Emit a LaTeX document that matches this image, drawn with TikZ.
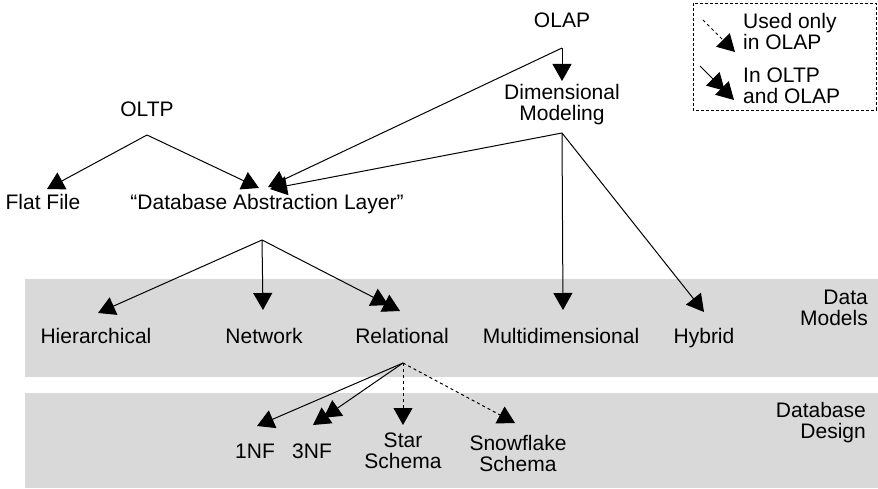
\documentclass[tikz,border=0pt]{standalone}
\usepackage{fontspec}
\setmainfont{Liberation Sans}
\usetikzlibrary{arrows.meta}
\begin{document}
\begin{tikzpicture}[x=1pt,y=-1pt,
  lbl/.style={inner sep=0pt, font=\fontsize{21}{21}\selectfont, anchor=base},
  head/.tip={Triangle[length=17pt,width=19pt]},
  link/.style={line width=1pt, -{head}},
  olaponly/.style={line width=1pt, dash pattern=on 3pt off 3pt, -{head}},
  both/.style={line width=1pt, -{head[sep=-4pt] head}},
  band/.style={fill=gray!30, draw=none}]
\useasboundingbox (0,0) rectangle (878,489);

% shaded layers
\fill[band] (25,279) rectangle (878,377);
\fill[band] (25,393) rectangle (878,488);

% legend (multi-line labels are placed by the baseline of their last line)
\draw[line width=0.8pt, dash pattern=on 3pt off 2pt] (693,3) rectangle (876,110);
\coordinate (lg1a) at (703,20);
\coordinate (lg1b) at (735,52);
\coordinate (lg2a) at (700,66);
\coordinate (lg2b) at (734,100);
\draw[olaponly] (lg1a) -- (lg1b);
\draw[both] (lg2a) -- (lg2b);
\node[lbl, anchor=base west, align=left] (lgt1) at (743,50) {Used only\\in OLAP};
\node[lbl, anchor=base west, align=left] (lgt2) at (743,104) {In OLTP\\and OLAP};

% labels
\node[lbl] (olap) at (562,28) {OLAP};
\node[lbl, align=center] (dm) at (562,121) {Dimensional\\Modeling};
\node[lbl] (oltp) at (147,117) {OLTP};
\node[lbl] (flat) at (43,210) {Flat File};
\node[lbl] (dal) at (267,210) {“Database Abstraction Layer”};
\node[lbl] (hier) at (96,343) {Hierarchical};
\node[lbl] (net) at (264,343) {Network};
\node[lbl] (rel) at (402,343) {Relational};
\node[lbl] (multi) at (561,343) {Multidimensional};
\node[lbl] (hyb) at (704,343) {Hybrid};
\node[lbl, anchor=base east, align=right] (dmodels) at (868,325) {Data\\Models};
\node[lbl] (nf1) at (255,458) {1NF};
\node[lbl] (nf3) at (312,458) {3NF};
\node[lbl, align=center] (star) at (403,468) {Star\\Schema};
\node[lbl, align=center] (snow) at (518,471) {Snowflake\\Schema};
\node[lbl, anchor=base east, align=right] (dbdesign) at (866,438) {Database\\Design};

% branch points
\coordinate (olapv) at (562,48);
\coordinate (oltpv) at (147,135);
\coordinate (dmv) at (562,133);
\coordinate (dalv) at (262,240);
\coordinate (relv) at (403,363);

% arrow ends
\coordinate (dmin) at (562,81);
\coordinate (flatin) at (47,189);
\coordinate (dalin1) at (259,188);
\coordinate (dalin2) at (268,187);
\coordinate (dalin3) at (270,189);
\coordinate (hierin) at (98,313);
\coordinate (netin) at (263,310);
\coordinate (relin) at (400,311);
\coordinate (multiin) at (563,310);
\coordinate (hybin) at (704,312);
\coordinate (nf1in) at (257,426);
\coordinate (nf3in) at (313,425);
\coordinate (starin) at (403,425);
\coordinate (snowin) at (515,423);

% connectors
\draw[link] (olapv) -- (dmin);
\draw[link] (oltpv) -- (flatin);
\draw[link] (oltpv) -- (dalin1);
\draw[link] (olapv) -- (dalin2);
\draw[link] (dmv) -- (dalin3);
\draw[link] (dmv) -- (multiin);
\draw[link] (dmv) -- (hybin);
\draw[link] (dalv) -- (hierin);
\draw[link] (dalv) -- (netin);
\draw[both] (dalv) -- (relin);
\draw[link] (relv) -- (nf1in);
\draw[both] (relv) -- (nf3in);
\draw[olaponly] (relv) -- (starin);
\draw[olaponly] (relv) -- (snowin);
\end{tikzpicture}
\end{document}
